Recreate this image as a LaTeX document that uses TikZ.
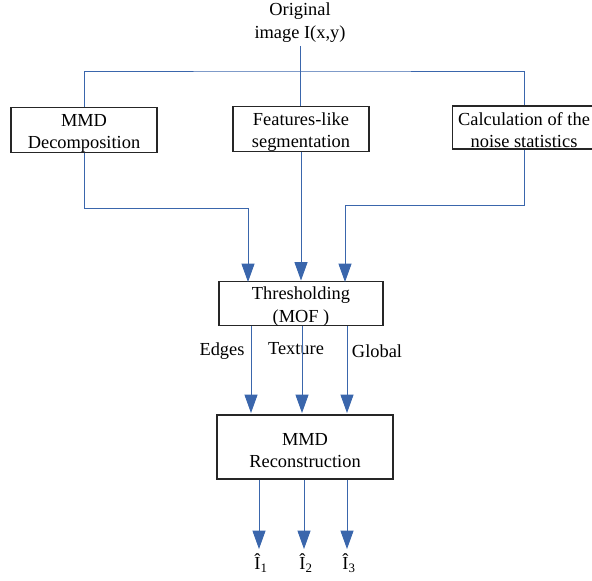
\documentclass[tikz,border=0pt]{standalone}
\usepackage{fontspec}
\setmainfont{Liberation Serif}
\usepackage{tikz}
\usetikzlibrary{positioning}
\usetikzlibrary{arrows.meta}
\usepackage{xcolor}
\definecolor{flowblue}{RGB}{58,102,172}
\newcommand{\boxstrut}{\rule{0pt}{16pt}}

\begin{document}
\begin{tikzpicture}[x=0.03cm, y=-0.03cm,
    box/.style={draw=black!85, line width=0.9pt, align=center, inner sep=0pt,
        font=\fontsize{15.7}{19}\selectfont},
    txt/.style={align=center, inner sep=0pt, font=\fontsize{15.7}{19}\selectfont},
    flow/.style={flowblue, line width=0.75pt,
        -{Triangle[width=0.39cm, length=0.55cm]}},
    link/.style={flowblue, line width=0.75pt}]

\useasboundingbox (0,0) rectangle (592,580);

% nodes
{
\node[txt, font=\fontsize{15.7}{19.6}\selectfont, outer sep=3pt] (orig) at (300,22.5) {Original\\image I(x,y)};

\node[box, minimum width=4.38cm, minimum height=1.32cm] (mmd) at (84,130) {\boxstrut MMD\\Decomposition};
\node[box, minimum width=4.08cm, minimum height=1.32cm] (feat) at (301,129) {\boxstrut Features-like\\segmentation};
\node[box, minimum width=4.3cm, minimum height=1.29cm] (calc) at (524,127.5) {\boxstrut Calculation of the\\noise statistics};

\node[box, minimum width=4.92cm, minimum height=1.29cm] (thresh) at (301,303.5) {\boxstrut Thresholding\\(MOF )};
\node[box, minimum width=5.28cm, minimum height=1.92cm] (recon) at (305,447) {\boxstrut MMD\\Reconstruction};

\node[txt] (edges) at (222,351.5) {Edges};
\node[txt] (texture) at (296,349) {Texture};
\node[txt] (global) at (377,351.5) {Global};

\node[txt] (i1) at (261,563) {Î\textsubscript{1}};
\node[txt] (i2) at (306,563) {Î\textsubscript{2}};
\node[txt] (i3) at (349,563) {Î\textsubscript{3}};
}

% coordinates
\coordinate (split) at (300,71);
\coordinate (b1) at (248,208);
\coordinate (b3) at (345,205);
\coordinate (in1) at (248,282);
\coordinate (in3) at (345,282);
\coordinate (r1) at (251,413);
\coordinate (r2) at (302,413);
\coordinate (r3) at (347,413);
\coordinate (o1) at (259,549);
\coordinate (o2) at (304,549);
\coordinate (o3) at (347,549);

% lines
\draw[link] (orig.south) -- (orig.south |- feat.north);
\draw[link] (mmd.north) |- (split) -| (calc.north);

% arrows
\draw[flow] (mmd.south) |- (b1) -- (in1);
\draw[flow] (feat.south) -- (feat.south |- thresh.north);
\draw[flow] (calc.south) |- (b3) -- (in3);

\draw[flow] (thresh.south -| r1) -- (r1);
\draw[flow] (thresh.south -| r2) -- (r2);
\draw[flow] (thresh.south -| r3) -- (r3);

\draw[flow] (recon.south -| o1) -- (o1);
\draw[flow] (recon.south -| o2) -- (o2);
\draw[flow] (recon.south -| o3) -- (o3);

\end{tikzpicture}
\end{document}
